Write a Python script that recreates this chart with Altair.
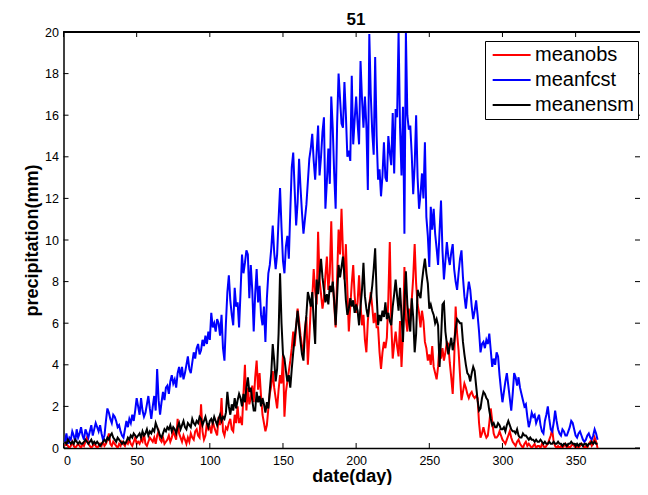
import altair as alt
import pandas as pd

chart_title = "51"
x_title = "date(day)"
y_title = "precipitation(mm)"
series_names = ["meanobs", "meanfcst", "meanensm"]
series_colors = ["#ff0000", "#0000ff", "#000000"]
x_label_values = [0, 50, 100, 150, 200, 250, 300, 350]
y_tick_values = [0, 2, 4, 6, 8, 10, 12, 14, 16, 18, 20]

meanobs = [
    0.1, 0.2, 0.1, 0.0, 0.1, 0.3, 0.1, 0.0, 0.1, 0.2,
    0.1, 0.0, 0.2, 0.1, 0.3, 0.5, 0.2, 0.1, 0.0, 0.1,
    0.2, 0.1, 0.0, 0.1, 0.2, 0.1, 0.3, 0.1, 0.2, 0.4,
    0.7, 0.2, 0.1, 0.3, 0.2, 0.1, 0.0, 0.2, 0.1, 0.3,
    0.2, 0.1, 0.3, 0.2, 0.4, 0.2, 0.1, 0.3, 0.5, 0.2,
    0.3, 0.2, 0.4, 0.3, 0.7, 0.2, 0.1, 0.3, 0.5, 0.4,
    0.3, 0.5, 0.2, 0.6, 0.8, 0.4, 0.3, 0.5, 0.2, 0.3,
    0.4, 0.6, 0.3, 0.5, 0.8, 0.6, 0.4, 1.4, 0.7, 0.5,
    0.3, 0.6, 0.4, 0.2, 0.5, 0.3, 0.7, 0.5, 0.4, 0.8,
    0.9, 0.6, 0.5, 2.1, 0.8, 0.4, 0.6, 1.2, 0.9, 1.0,
    0.7, 1.3, 1.0, 0.8, 0.6, 1.5, 1.1, 2.4, 0.8, 0.6,
    1.0, 0.9, 1.2, 1.4, 0.9, 0.8, 1.6, 1.2, 2.0, 1.2,
    1.4, 1.1, 2.6, 4.0, 1.8, 2.9, 2.1, 2.4, 3.0, 2.2,
    3.4, 4.2, 2.8, 3.6, 2.5, 1.6, 1.2, 0.8, 1.1, 1.9,
    2.6, 3.0, 3.7, 2.9, 2.4, 1.9, 2.8, 3.5, 3.1, 4.5,
    1.5, 2.7, 3.2, 3.7, 4.2, 4.8, 5.6, 4.9, 5.8, 6.7,
    6.1, 5.4, 4.9, 4.6, 5.7, 6.3, 4.0, 5.3, 6.8, 7.2,
    8.6, 7.5, 6.9, 10.4, 8.1, 7.4, 6.7, 7.2, 8.3, 9.2,
    7.6, 8.4, 10.9, 8.0, 6.9, 5.8, 8.2, 10.5, 9.3, 11.5,
    9.4, 8.1, 9.8, 7.6, 5.6, 6.8, 7.9, 8.8, 7.3, 6.5,
    7.0, 8.3, 6.9, 5.9, 6.4, 5.2, 4.6, 6.1, 6.9, 7.5,
    6.8, 6.0, 6.5, 5.8, 5.8, 4.6, 3.8, 4.6, 5.1, 4.8,
    5.3, 7.2, 9.9, 6.0, 4.3, 5.0, 5.6, 4.9, 4.4, 6.1,
    3.9, 5.5, 8.7, 6.2, 5.6, 6.7, 6.1, 7.1, 8.2, 9.8,
    7.9, 6.9, 6.5, 5.8, 6.6, 6.1, 5.1, 4.8, 4.2, 4.5,
    4.0, 4.9, 3.9, 3.6, 3.3, 3.9, 5.0, 4.3, 4.8, 4.2,
    4.6, 5.1, 5.0, 4.1, 3.4, 2.6, 4.2, 6.8, 5.5, 4.7,
    3.5, 2.3, 2.7, 3.1, 2.9, 2.6, 2.4, 2.6, 2.7, 2.5,
    2.4, 2.5, 2.4, 1.2, 0.5, 0.7, 1.0, 0.7, 0.5, 0.6,
    1.2, 1.9, 1.3, 0.7, 0.5, 0.5, 0.6, 0.8, 0.6, 0.4,
    0.3, 0.2, 0.4, 0.6, 0.8, 0.5, 0.3, 0.2, 0.1, 0.3,
    0.4, 0.2, 0.1, 0.0, 0.2, 0.3, 0.1, 0.2, 0.1, 0.0,
    0.1, 0.2, 0.0, 0.1, 0.1, 0.0, 0.2, 0.1, 0.0, 0.1,
    0.2, 0.4, 0.6, 0.9, 0.3, 0.1, 0.0, 0.1, 0.0, 0.1,
    0.0, 0.1, 0.2, 0.0, 0.1, 0.0, 0.1, 0.2, 0.1, 0.0,
    0.1, 0.0, 0.1, 0.2, 0.1, 0.0, 0.1, 0.0, 0.2, 0.3,
    0.1, 0.2, 0.5, 0.3, 0.0,
]

meanfcst = [
    0.3, 0.7, 0.2, 0.5, 0.4, 0.8, 0.6, 0.3, 0.9, 0.5,
    0.7, 1.0, 0.6, 0.4, 0.9, 0.7, 0.5, 0.8, 1.1, 0.6,
    0.9, 1.2, 1.0, 0.8, 1.1, 0.7, 0.4, 0.6, 1.3, 1.9,
    1.7, 1.4, 1.2, 1.6, 1.5, 1.3, 1.0, 1.1, 0.8, 0.6,
    0.5, 0.9, 1.3, 1.0, 1.4, 1.2, 1.6, 1.3, 1.8, 2.4,
    2.0, 1.6, 2.4, 1.8, 1.5, 1.7, 2.1, 2.5, 1.9, 1.4,
    2.0, 2.5, 1.8, 3.8, 2.3, 1.6, 2.2, 2.7, 2.3, 2.9,
    3.0, 2.6, 3.2, 3.5, 3.1, 3.3, 2.9, 3.6, 3.9, 3.4,
    3.9, 3.3, 3.6, 4.0, 4.4, 3.8, 3.6, 4.1, 4.6, 4.3,
    4.8, 5.0, 4.5, 4.7, 5.2, 4.9, 5.4, 5.0, 5.6, 5.2,
    6.5, 5.8, 6.0, 5.6, 6.2, 6.0, 5.4, 6.4, 4.8, 4.2,
    6.0, 7.5, 8.3, 7.1, 6.4, 5.9, 7.7, 6.8, 7.0, 5.8,
    7.5, 9.3, 8.4, 8.9, 9.5, 9.3, 7.2, 8.8, 7.6, 5.6,
    7.4, 8.6, 7.0, 7.8, 6.4, 5.9, 6.8, 5.1, 7.2, 8.4,
    8.8, 9.6, 10.7, 9.4, 8.6, 9.3, 11.0, 12.5, 10.6, 9.0,
    8.4, 9.7, 10.2, 9.1, 11.4, 13.5, 14.2, 12.4, 10.7, 11.8,
    13.9, 12.5, 11.3, 10.3, 11.0, 11.7, 12.8, 13.9, 14.4, 15.1,
    13.8, 12.9, 14.2, 15.5, 13.1, 14.0, 15.2, 15.9, 11.5, 12.8,
    14.4, 12.7, 16.9, 15.4, 13.2, 11.5, 15.6, 18.0, 16.8, 15.6,
    15.4, 17.6, 16.0, 14.0, 14.3, 13.8, 17.9, 14.6, 15.8, 16.9,
    15.6, 14.6, 18.6, 16.8, 15.4, 16.9, 15.5, 12.4, 19.9, 17.0,
    15.2, 14.1, 18.8, 15.0, 12.9, 13.4, 12.1, 13.1, 14.7, 13.0,
    12.8, 15.0, 14.2, 13.6, 16.1, 13.2, 16.3, 15.9, 20.0, 15.4,
    13.1, 16.4, 10.3, 20.0, 16.0, 15.3, 15.5, 14.1, 12.2, 13.6,
    16.0, 13.0, 11.5, 12.2, 13.2, 12.0, 14.7, 11.1, 10.2, 8.7,
    11.6, 10.5, 11.5, 10.3, 9.6, 8.8, 10.4, 11.9, 9.5, 8.1,
    9.0, 9.9, 9.2, 8.8, 9.4, 9.8, 8.6, 8.0, 7.6, 8.4,
    9.1, 9.5, 8.2, 7.3, 6.7, 7.4, 8.0, 7.6, 6.8, 6.2,
    6.6, 7.1, 6.4, 5.6, 4.6, 5.0, 5.1, 4.8, 5.2, 5.0,
    5.5, 4.7, 3.9, 4.3, 4.0, 4.6, 4.4, 3.5, 2.8, 2.2,
    2.7, 3.2, 3.6, 3.0, 2.4, 1.8, 2.6, 3.6, 3.4, 3.0,
    3.4, 2.9, 2.6, 2.3, 2.0, 2.1, 1.5, 1.0, 1.3, 1.7,
    1.5, 1.6, 1.2, 1.4, 1.6, 1.1, 0.8, 0.7, 1.3, 1.6,
    2.0, 1.4, 0.9, 0.8, 1.2, 1.8, 1.3, 0.9, 0.7, 0.6,
    0.9, 0.8, 0.6, 0.6, 0.8, 1.0, 1.3, 1.2, 0.9, 0.6,
    0.5, 0.7, 0.8, 0.6, 0.4, 0.3, 0.4, 0.6, 0.7, 0.5,
    0.4, 0.6, 0.9, 0.7, 0.4,
]

meanensm = [
    0.3, 0.2, 0.4, 0.3, 0.2, 0.3, 0.2, 0.4, 0.3, 0.2,
    0.3, 0.2, 0.2, 0.3, 0.4, 0.3, 0.2, 0.3, 0.4, 0.2,
    0.3, 0.2, 0.3, 0.2, 0.1, 0.2, 0.3, 0.4, 0.3, 0.5,
    0.4, 0.6, 0.7, 0.5, 0.4, 0.3, 0.5, 0.4, 0.3, 0.2,
    0.3, 0.2, 0.3, 0.5, 0.4, 0.6, 0.5, 0.7, 0.6, 0.5,
    0.6, 0.7, 0.5, 0.8, 0.6, 0.7, 0.9, 0.6, 0.8, 0.7,
    0.9, 0.8, 1.2, 1.0, 0.8, 0.6, 0.5, 0.7, 0.9, 0.8,
    1.0, 0.9, 1.1, 0.8, 1.0, 0.9, 0.7, 1.0, 1.2, 0.9,
    1.1, 1.3, 1.0, 0.9, 1.2, 1.1, 1.0, 1.4, 1.2, 1.1,
    1.3, 1.2, 1.5, 1.4, 1.1, 1.3, 1.5, 1.2, 1.0, 1.3,
    1.4, 1.2, 1.5, 1.3, 1.1, 1.4, 1.6, 1.3, 1.5, 1.4,
    1.7, 2.7, 2.0, 1.6, 2.1, 1.8, 2.4, 1.9, 2.3, 2.6,
    2.4, 2.0, 2.6, 2.2, 2.9, 3.4, 2.7, 2.9, 2.3, 1.8,
    1.8, 2.7, 2.2, 2.5, 2.0, 2.4, 2.1, 1.7, 2.2, 1.9,
    2.8, 3.6, 5.0, 4.2, 3.2, 3.8, 5.5, 8.4, 6.0, 4.5,
    4.3, 3.7, 3.2, 3.5, 2.9, 3.8, 4.6, 5.3, 5.9, 6.6,
    5.8, 5.1, 4.5, 4.2, 5.6, 6.4, 7.5, 7.2, 6.8, 7.5,
    6.1, 5.0, 8.1, 7.4, 8.3, 9.1, 8.2, 7.6, 7.0, 7.4,
    6.9, 7.8, 7.5, 8.0, 7.1, 5.9, 7.3, 8.8, 8.2, 8.7,
    9.2, 8.3, 7.1, 6.4, 6.7, 7.2, 6.8, 7.1, 6.5, 6.9,
    6.6, 5.9, 6.8, 7.6, 8.9, 7.3, 6.7, 6.3, 6.9, 7.2,
    7.8, 8.6, 9.6, 7.4, 5.9, 6.4, 6.1, 6.6, 6.3, 7.0,
    6.2, 6.5, 6.1, 5.9, 6.8, 7.4, 8.1, 7.3, 6.6, 7.7,
    6.4, 5.1, 7.0, 8.5, 6.9, 6.1, 5.6, 7.2, 6.3, 4.6,
    5.5, 7.6, 7.4, 7.2, 8.0, 8.6, 9.1, 8.4, 7.9, 6.7,
    6.9, 6.6, 6.4, 6.0, 6.2, 5.9, 3.9, 5.2, 6.9, 7.0,
    5.6, 5.0, 4.5, 4.9, 5.3, 4.7, 5.1, 5.7, 6.2, 6.1,
    6.0, 6.0, 5.1, 4.5, 4.0, 3.6, 3.5, 3.2, 3.6, 3.9,
    3.7, 3.0, 2.3, 1.8, 1.9, 2.4, 2.7, 2.6, 2.4, 2.3,
    1.8, 1.4, 1.1, 1.2, 1.0, 1.0, 1.2, 1.1, 0.9, 0.9,
    1.0, 0.8, 1.1, 1.3, 1.1, 0.9, 0.8, 0.8, 0.7, 0.9,
    0.6, 0.5, 0.5, 0.7, 0.6, 0.6, 0.5, 0.4, 0.5, 0.4,
    0.4, 0.3, 0.4, 0.3, 0.3, 0.4, 0.3, 0.2, 0.3, 0.2,
    0.2, 0.3, 0.2, 0.2, 0.3, 0.2, 0.2, 0.3, 0.2, 0.2,
    0.1, 0.2, 0.2, 0.1, 0.2, 0.2, 0.3, 0.2, 0.2, 0.1,
    0.2, 0.1, 0.2, 0.2, 0.1, 0.2, 0.2, 0.1, 0.2, 0.2,
    0.3, 0.2, 0.3, 0.2, 0.2,
]

# plot area: 0..394 days visible (the frame runs a little past 390, as in the reference)
W, H = 576.5, 416
FONT = "Liberation Sans"

x_scale = alt.Scale(domain=[0, 394], nice=False, zero=False)
y_scale = alt.Scale(domain=[0, 20], nice=False, zero=False)
color_scale = alt.Scale(domain=series_names, range=series_colors)

x_axis = alt.Axis(values=x_label_values, grid=False, ticks=False, tickSize=0,
                  labelPadding=6, labelFontSize=12.5, labelFont=FONT,
                  labelColor="black", domainColor="black", domainWidth=1.5,
                  titleFontSize=18, titleFont=FONT, titleFontWeight="bold",
                  titleColor="black", titlePadding=1)
y_axis = alt.Axis(values=y_tick_values, grid=False, ticks=False, tickSize=0,
                  labelPadding=5, labelFontSize=12.5, labelFont=FONT,
                  labelColor="black", domainColor="black", domainWidth=1.5,
                  titleFontSize=18, titleFont=FONT, titleFontWeight="bold",
                  titleColor="black", titlePadding=3)


def series_df(name, vals):
    return pd.DataFrame({"day": list(range(1, len(vals) + 1)), "value": vals,
                         "series": [name] * len(vals)})


layers = []
for name, vals in zip(series_names, [meanobs, meanfcst, meanensm]):
    layers.append(
        alt.Chart(series_df(name, vals)).mark_line(strokeWidth=2, clip=True).encode(
            x=alt.X("day:Q", scale=x_scale, axis=x_axis, title=x_title),
            y=alt.Y("value:Q", scale=y_scale, axis=y_axis, title=y_title),
            color=alt.Color("series:N", scale=color_scale, title=None),
        )
    )

xt = pd.DataFrame({"v": x_label_values})
yt = pd.DataFrame({"v": y_tick_values})
TL = 5
tick_layers = [
    alt.Chart(xt).mark_rule(color="black", strokeWidth=1).encode(
        x=alt.X("v:Q", scale=x_scale, axis=x_axis, title=x_title),
        y=alt.value(H), y2=alt.value(H - TL)),
    alt.Chart(xt).mark_rule(color="black", strokeWidth=1).encode(
        x=alt.X("v:Q", scale=x_scale, axis=x_axis, title=x_title),
        y=alt.value(0), y2=alt.value(TL)),
    alt.Chart(yt).mark_rule(color="black", strokeWidth=1).encode(
        y=alt.Y("v:Q", scale=y_scale, axis=y_axis, title=y_title),
        x=alt.value(0), x2=alt.value(TL)),
    alt.Chart(yt).mark_rule(color="black", strokeWidth=1).encode(
        y=alt.Y("v:Q", scale=y_scale, axis=y_axis, title=y_title),
        x=alt.value(W), x2=alt.value(W - TL)),
    alt.Chart(xt).mark_rule(color="black", strokeWidth=1.2).encode(
        x=alt.value(0), x2=alt.value(W), y=alt.value(0)),
]

title_layer = alt.Chart(pd.DataFrame({"t": [chart_title]})).mark_text(
    align="center", baseline="alphabetic", fontSize=17, fontWeight="bold",
    font=FONT, color="black",
).encode(text="t:N", x=alt.value(292.5), y=alt.value(-7.5))

chart = alt.layer(*layers, *tick_layers, title_layer).properties(
    width=W,
    height=H,
    autosize=alt.AutoSizeParams(type="none"),
    padding={"left": 55.5, "top": 24, "right": 0, "bottom": 37},
).configure_view(stroke=None).configure_legend(
    orient="none", legendX=421.5, legendY=9,
    strokeColor="black", fillColor="white", padding=4,
    labelFontSize=20, labelFont=FONT, labelColor="black",
    symbolType="M-1,0H5", symbolStrokeWidth=2, symbolSize=160,
    rowPadding=5, labelOffset=26,
)

chart.save("out.html", embed_options={"renderer": "svg", "actions": False})
